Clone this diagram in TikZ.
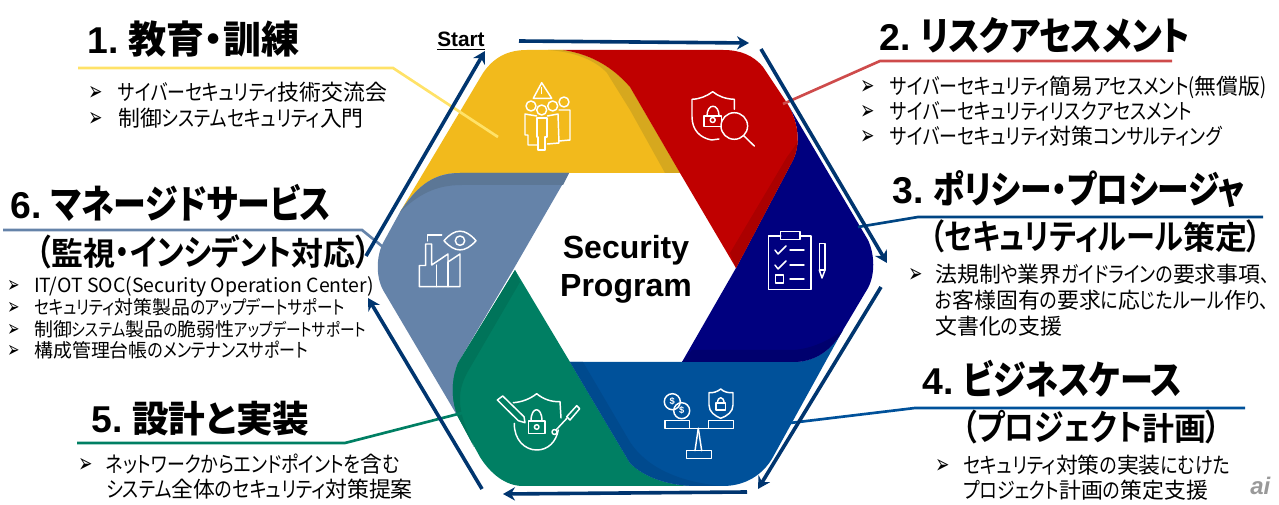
\documentclass[tikz,border=0pt]{standalone}
\usepackage{fontspec}
\setmainfont{Liberation Sans}
\newfontfamily\jp[RawFeature={+palt}]{Noto Sans CJK JP}
\newfontfamily\jpkana[RawFeature={+palt},FakeStretch=0.82]{Noto Sans CJK JP}
\newfontfamily\jphead[RawFeature={+palt}]{Noto Sans CJK JP Bold}
\newfontfamily\jpheadkana[RawFeature={+palt},FakeStretch=0.84]{Noto Sans CJK JP Bold}
\newfontfamily\symfont{DejaVu Sans}
\usetikzlibrary{arrows.meta}
\definecolor{secyellow}{HTML}{F2BA1C}
\definecolor{secyellowdark}{HTML}{D6A81E}
\definecolor{secred}{HTML}{C00000}
\definecolor{secreddark}{HTML}{AB0000}
\definecolor{secnavy}{HTML}{00007F}
\definecolor{secnavydark}{HTML}{00006E}
\definecolor{secblue}{HTML}{00519A}
\definecolor{secbluedark}{HTML}{004A8E}
\definecolor{secgreen}{HTML}{007F63}
\definecolor{secgreendark}{HTML}{00745A}
\definecolor{secgrey}{HTML}{6583A9}
\definecolor{secgreydark}{HTML}{5C7796}
\definecolor{arrowblue}{HTML}{00356F}
\definecolor{leaderyellow}{HTML}{FFE268}
\definecolor{leaderred}{HTML}{CE4B4B}
\newcommand{\fs}[2]{{\fontsize{#1pt}{#1pt}\selectfont #2}}
\newcommand{\kj}[1]{{\jp #1}}
\newcommand{\kjs}[1]{{\jp\fs{14.2}{#1}}}
\newcommand{\kjh}[1]{{\jphead #1}}
\newcommand{\arrowmark}{\scalebox{1.15}[1.8]{➢}}
\tikzset{
  headtext/.style = {anchor=base west, inner sep=0pt, font=\bfseries\fontsize{28pt}{30pt}\selectfont},
  headjp/.style = {anchor=base west, inner sep=0pt, font=\jpheadkana\fontsize{26pt}{30pt}\selectfont},
  itemtext/.style = {anchor=base west, inner sep=0pt, font=\jpkana\fontsize{16.4pt}{16pt}\selectfont},
  smalltext/.style = {anchor=base west, inner sep=0pt, font=\jpkana\fontsize{14.2pt}{14pt}\selectfont},
  bulletmark/.style = {anchor=base west, inner sep=0pt, font=\symfont\fontsize{11pt}{14pt}\selectfont},
  leader/.style = {line width=2pt},
  cyclearrow/.style = {draw=arrowblue, line width=2.7pt, -{Stealth[length=9pt,width=10pt]}},
  iconline/.style = {draw=white, line width=1.1pt, line join=round, line cap=round},
}
\begin{document}
\begin{tikzpicture}[x=0.75pt, y=-0.75pt]
\useasboundingbox (0,0) rectangle (1279,505);

% first segment
\fill[secyellow] (400,212) -- (483,73) .. controls (494,57) and (508,50) .. (527,50)
  -- (563,50) .. controls (595,55) and (615,70) .. (630,87) -- (680,173) -- (460,173)
  .. controls (430,173) and (415,190) .. (400,212) -- cycle;
\fill[secyellowdark] (548,50) -- (563,50) .. controls (595,55) and (615,70) .. (630,87) -- (680,173) -- (665,173)
  -- (630,110) -- (607,73) .. controls (595,60) and (575,52) .. (548,50) -- cycle;

% sixth segment
\fill[secgrey] (400,212) .. controls (415,190) and (430,173) .. (460,173) -- (569,173) -- (513,270) -- (458,363)
  .. controls (451,380) and (452,400) .. (458,417) -- (383,290) .. controls (376,277) and (376,257) .. (383,243) -- cycle;
\fill[secgreydark] (400,212) .. controls (415,190) and (430,173) .. (460,173) -- (569,173) -- (563,185) -- (462,185)
  .. controls (435,185) and (418,195) .. (400,212) -- cycle;

% fifth segment
\fill[secgreen] (515,270) -- (570,362) -- (630,463) .. controls (645,478) and (670,486) .. (697,486) -- (523,486)
  .. controls (505,486) and (490,473) .. (480,457) -- (458,417) .. controls (451,400) and (451,380) .. (458,363) -- cycle;
\fill[secgreendark] (515,270) -- (520,282) -- (467,373) .. controls (458,390) and (458,405) .. (465,425) -- (474,447)
  -- (458,417) .. controls (451,400) and (451,380) .. (458,363) -- cycle;

% fourth segment
\fill[secblue] (570,362) -- (793,362) .. controls (815,362) and (832,350) .. (843,330) -- (773,457)
  .. controls (763,475) and (745,486) .. (723,486) -- (697,486) .. controls (670,486) and (645,478) .. (630,463) -- cycle;
\fill[secbluedark] (570,362) -- (583,362) -- (630,442) .. controls (645,465) and (675,482) .. (723,486) -- (697,486)
  .. controls (670,486) and (645,478) .. (630,463) -- cycle;

% third segment
\fill[secnavy] (787,103) -- (868,240) .. controls (875,255) and (875,275) .. (868,288) -- (843,330)
  .. controls (832,350) and (815,362) .. (793,362) -- (682,362) -- (736,268) -- (793,160)
  .. controls (800,145) and (800,125) .. (787,103) -- cycle;
\fill[secnavydark] (682,362) -- (692,350) -- (790,350) .. controls (810,350) and (830,340) .. (843,330)
  .. controls (832,350) and (815,362) .. (793,362) -- cycle;

% second segment
\fill[secred] (563,50) -- (723,50) .. controls (740,50) and (753,55) .. (763,67) -- (787,103)
  .. controls (800,125) and (800,145) .. (793,160) -- (736,268) -- (680,173) -- (630,87)
  .. controls (615,70) and (595,55) .. (563,50) -- cycle;
\fill[secreddark] (736,268) -- (793,160) .. controls (795.8,154) and (797.5,147.2) .. (797.7,140)
  .. controls (796,146) and (792,150) .. (787,157) -- (730,253) -- cycle;

% centre label
\node[inner sep=0pt, anchor=base, font=\bfseries\fontsize{24pt}{28pt}\selectfont] (seclabela) at (626,259) {Security};
\node[inner sep=0pt, anchor=base, font=\bfseries\fontsize{24pt}{28pt}\selectfont] (seclabelb) at (626,297) {Program};

% people icon
\draw[iconline] (541.7,82.7) -- (533.3,98.3) -- (551.7,98.3) -- cycle;
\draw[iconline] (541.7,87.5) -- (541.7,93.5);
\draw[iconline] (531,106) circle (5);
\draw[iconline] (552.7,106) circle (5);
\draw[iconline] (564,102) circle (5);
\draw[iconline] (541.7,110) circle (5);
\draw[iconline] (536.7,116) -- (525,114) -- (525,135) -- (528,135) -- (528,145) -- (536.7,145);
\draw[iconline] (547.3,116) -- (558,114) -- (559,143) -- (547.3,144);
\draw[iconline] (559,110) -- (570,110) -- (570,140) -- (559,141);
\draw[iconline] (537,118) -- (547,118) -- (547,137) -- (545,137) -- (545,150) -- (538,150) -- (538,137) -- (537,137) -- cycle;

% shield and magnifier icon
\draw[iconline] (734.3,109.3) -- (734.3,99.3) .. controls (725,99) and (718,96) .. (712.7,91.7)
  .. controls (707,96) and (700,99) .. (692,99.3) -- (692,116.7) .. controls (692,130) and (700,138) .. (711.7,140) -- (719,139);
\draw[iconline] (704,116) rectangle (721.7,126.7);
\draw[iconline] (707,116) .. controls (707,103) and (719,103) .. (719,116);
\draw[iconline] (712.7,120) circle (2.5);
\draw[iconline] (734.3,126) circle (13.3);
\draw[iconline] (744,136) -- (754.3,146);

% clipboard icon
\draw[iconline] (780.7,236) -- (768.7,236) -- (768.7,289.3) -- (811,289.3) -- (811,236) -- (800,236);
\draw[iconline] (780.7,231.7) rectangle (800,239.3);
\draw[iconline] (775,250) -- (778,254) -- (786,246);
\draw[iconline] (775,265) -- (778,269) -- (786,261);
\draw[iconline] (775.5,275) rectangle (783.5,283);
\draw[iconline] (790,250) -- (804,250);
\draw[iconline] (790,265) -- (804,265);
\draw[iconline] (790,279) -- (804,279);
\draw[iconline] (819.3,243.3) rectangle (825,270);
\draw[iconline] (819.3,270) -- (822,278) -- (825,270);

% scale icon
\draw[iconline] (672.3,401.7) circle (8);
\draw[iconline] (681.7,410.7) circle (8);
\node[inner sep=0pt, text=white, font=\bfseries\fontsize{7pt}{8pt}\selectfont] (coina) at (672.3,401.7) {\$};
\node[inner sep=0pt, text=white, font=\bfseries\fontsize{7pt}{8pt}\selectfont] (coinb) at (681.7,410.7) {\$};
\draw[iconline] (665,420.7) rectangle (689.3,428.3);
\draw[iconline] (708.3,420.7) rectangle (733.3,428.3);
\draw[iconline] (689.3,428.3) -- (708.3,428.3);
\draw[iconline] (698.3,428.3) -- (695,450.7);
\draw[iconline] (698.3,428.3) -- (701.7,450.7);
\draw[iconline] (686.7,450.7) rectangle (711.7,458.3);
\draw[iconline] (720.7,389) .. controls (717,392) and (713,393) .. (709,392.7) -- (709,405)
  .. controls (709,412) and (715,416) .. (720.7,418.3) .. controls (727,416) and (733,412) .. (733,405)
  -- (733,392.7) .. controls (728,393) and (724,392) .. (720.7,389) -- cycle;
\draw[iconline] (716,403) rectangle (725.5,410);
\draw[iconline] (717.5,403) .. controls (717.5,396) and (724,396) .. (724,403);

% shield and tools icon
\draw[iconline] (513.3,402.7) .. controls (522,402) and (530,399) .. (536.7,393.7)
  .. controls (543,399) and (551,402) .. (560,401.7) -- (561,418);
\draw[iconline] (514.3,423.3) .. controls (514,440) and (525,450) .. (536.7,450)
  .. controls (548,450) and (556,442) .. (558.3,430);
\draw[iconline] (528.3,421) rectangle (545,433.3);
\draw[iconline] (531,421) .. controls (531,406) and (542,406) .. (542,421);
\draw[iconline] (536.7,427) circle (2.3);
\draw[iconline] (497.3,400) -- (502.7,396) -- (524,416.7) -- (525,422.7) -- (518.3,420.7) -- cycle;
\draw[iconline] (566.7,416.7) -- (576.7,405.7) -- (579.7,408.7) -- (570,420) -- cycle;
\draw[iconline] (566.7,418.5) -- (556,430);
\draw[iconline] (554.5,432) circle (2.5);

% factory and eye icon
\draw[iconline] (444,240.7) .. controls (455,228) and (465,228) .. (476,240.7)
  .. controls (465,253) and (455,253) .. (444,240.7) -- cycle;
\draw[iconline] (460,240.7) circle (4.7);
\draw[iconline] (441.7,235) -- (427.7,235) -- (427.7,241);
\draw[iconline] (419.3,286.7) -- (419.3,265.5) -- (425.7,265.5) -- (425.7,244) -- (431.7,244) -- (431.7,265)
  -- (448,254) -- (448,262) -- (460,254) -- (460,286.7) -- cycle;
\draw[iconline] (436.7,265) -- (436.7,286.7);
\draw[iconline] (448,262) -- (448,286.7);

% leader ends
\coordinate (yellowa) at (78,68);
\coordinate (yellowb) at (393,68);
\coordinate (yellowc) at (498,137);
\coordinate (reda) at (1172,61);
\coordinate (redb) at (880,61);
\coordinate (redc) at (783,104);
\coordinate (navya) at (1263,217);
\coordinate (navyb) at (918,217);
\coordinate (navyc) at (858,227);
\coordinate (bluea) at (1245,408);
\coordinate (blueb) at (915,408);
\coordinate (bluec) at (790,423);
\coordinate (greena) at (77,443);
\coordinate (greenb) at (345,443);
\coordinate (greenc) at (462,413);
\coordinate (greya) at (3,230);
\coordinate (greyb) at (362,230);
\coordinate (greyc) at (383,247);

% cycle arrow ends
\coordinate (arrowa) at (366,256);
\coordinate (arrowb) at (485,51);
\coordinate (arrowc) at (519,41);
\coordinate (arrowd) at (749,43);
\coordinate (arrowe) at (761,49);
\coordinate (arrowf) at (887,263);
\coordinate (arrowg) at (881,287);
\coordinate (arrowh) at (758,489);
\coordinate (arrowi) at (747,492);
\coordinate (arrowj) at (503,494);
\coordinate (arrowk) at (482,489);
\coordinate (arrowl) at (368,298);

\draw[leader, draw=leaderyellow] (yellowa) -- (yellowb) -- (yellowc);
\draw[leader, draw=leaderred] (reda) -- (redb) -- (redc);
\draw[leader, draw=secblue!85!black] (navya) -- (navyb) -- (navyc);
\draw[leader, draw=secblue] (bluea) -- (blueb) -- (bluec);
\draw[leader, draw=secgreen] (greena) -- (greenb) -- (greenc);
\draw[leader, draw=secgrey] (greya) -- (greyb) -- (greyc);

\draw[cyclearrow] (arrowa) -- (arrowb);
\draw[cyclearrow] (arrowc) -- (arrowd);
\draw[cyclearrow] (arrowe) -- (arrowf);
\draw[cyclearrow] (arrowg) -- (arrowh);
\draw[cyclearrow] (arrowi) -- (arrowj);
\draw[cyclearrow] (arrowk) -- (arrowl);

\node[anchor=base west, inner sep=0pt, font=\bfseries\fontsize{15.6pt}{18pt}\selectfont] (startlabel) at (437,47) {\underline{Start}};

% first block
\node[headtext] (heada) at (87,54) {1.\hspace{7.3pt}{\jphead\fs{28.6}{教育・訓練}}};
\node[bulletmark] (bula) at (88,101) {\arrowmark};
\node[itemtext] (itema) at (118,101) {サイバーセキュリティ\kj{技術交流会}};
\node[bulletmark] (bulb) at (88,127) {\arrowmark};
\node[itemtext] (itemb) at (118,127) {\kj{制御}システムセキュリティ\kj{入門}};

% second block
\node[headtext] (headb) at (879,51) {2.\hspace{7.3pt}{\jpheadkana\fs{29.5}{リスクアセスメント}}};
\node[bulletmark] (bulc) at (860,95) {\arrowmark};
\node[itemtext] (itemc) at (890,95) {サイバーセキュリティ\kj{簡易}アセスメント(\kj{無償版})};
\node[bulletmark] (buld) at (860,120) {\arrowmark};
\node[itemtext] (itemd) at (890,120) {サイバーセキュリティリスクアセスメント};
\node[bulletmark] (bule) at (860,145) {\arrowmark};
\node[itemtext] (iteme) at (890,145) {サイバーセキュリティ\kj{対策}コンサルティング};

% third block
\node[headtext] (headc) at (892,204) {3.\hspace{7.3pt}{\jpheadkana\fs{28.3}{ポリシー・プロシージャ}}};
\node[headjp] (headd) at (930,250) {（セキュリティルール\kjh{\fs{24}{策定}}）};
\node[bulletmark] (bulf) at (908,283) {\arrowmark};
\node[itemtext] (itemf) at (935,283) {\kj{法規制}や\kj{業界}ガイドラインの\kj{要求事項}、};
\node[itemtext] (itemg) at (935,309) {お\kj{客様固有}の\kj{要求}に\kj{応}じたルール\kj{作}り、};
\node[itemtext] (itemh) at (935,335) {\kj{文書化}の\kj{支援}};

% fourth block
\node[headtext] (heade) at (922,395) {4.\hspace{7.3pt}{\jpheadkana\fs{29.5}{ビジネスケース}}};
\node[headjp, font=\jpheadkana\fontsize{26.6pt}{30pt}\selectfont] (headf) at (962,441) {（プロジェクト\kjh{\fs{24}{計画}}）};
\node[bulletmark] (bulg) at (935,474) {\arrowmark};
\node[itemtext] (itemi) at (963,474) {セキュリティ\kj{対策}の\kj{実装}にむけた};
\node[itemtext] (itemj) at (963,499) {プロジェクト\kj{計画}の\kj{策定支援}};

% fifth block
\node[headtext] (headg) at (91,433) {5.\hspace{7.3pt}{\jphead\fs{27.5}{設計と実装}}};
\node[bulletmark] (bulh) at (78,473) {\arrowmark};
\node[itemtext] (itemk) at (106,473) {ネットワークからエンドポイントを\kj{含}む};
\node[itemtext] (iteml) at (106,498) {システム\kj{全体}のセキュリティ\kj{対策提案}};

% sixth block
\node[headtext] (headh) at (10,219) {6.\hspace{7.3pt}{\jpheadkana\fs{29.4}{マネージドサービス}}};
\node[headjp, font=\jpheadkana\fontsize{26.6pt}{30pt}\selectfont] (headi) at (36,266) {（\kjh{\fs{24}{監視}}・インシデント\kjh{\fs{24}{対応}}）};
\node[bulletmark, font=\symfont\fontsize{9.5pt}{12pt}\selectfont] (buli) at (7,293) {\arrowmark};
\node[smalltext, font=\jp\fontsize{14.6pt}{14pt}\selectfont] (itemm) at (34,293) {IT/OT SOC(Security Operation Center)};
\node[bulletmark, font=\symfont\fontsize{9.5pt}{12pt}\selectfont] (bulj) at (7,315) {\arrowmark};
\node[smalltext] (itemn) at (34,315) {セキュリティ\kjs{対策製品}のアップデートサポート};
\node[bulletmark, font=\symfont\fontsize{9.5pt}{12pt}\selectfont] (bulk) at (7,337) {\arrowmark};
\node[smalltext, font=\jpkana\fontsize{13.4pt}{14pt}\selectfont] (itemo) at (34,337) {\kjs{制御}システム\kjs{製品}の\kjs{脆弱性}アップデートサポート};
\node[bulletmark, font=\symfont\fontsize{9.5pt}{12pt}\selectfont] (bull) at (7,358) {\arrowmark};
\node[smalltext, font=\jpkana\fontsize{14.6pt}{14pt}\selectfont] (itemp) at (34,358) {\kjs{構成管理台帳}のメンテナンスサポート};

% corner mark
\node[anchor=base west, inner sep=0pt, text=black!40, font=\bfseries\itshape\fontsize{18pt}{20pt}\selectfont] (cornermark) at (1250,495) {ai};

\end{tikzpicture}
\end{document}
